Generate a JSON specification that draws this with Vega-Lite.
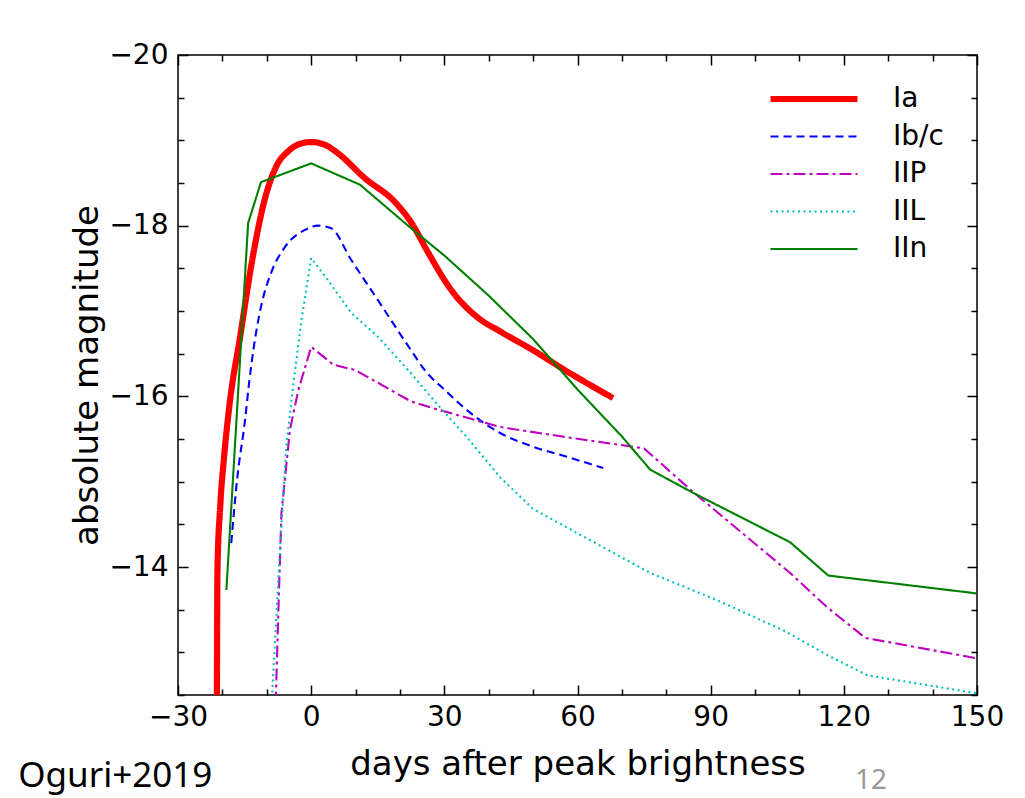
{
  "$schema": "https://vega.github.io/schema/vega-lite/v6.json",
  "width": 799,
  "height": 640,
  "autosize": {"type": "none"},
  "padding": {"left": 178, "top": 55, "right": 48, "bottom": 103},
  "background": "white",
  "config": {
    "view": {"stroke": "black", "strokeWidth": 1.5},
    "font": "DejaVu Sans",
    "axis": {
      "domain": false,
      "grid": false,
      "tickColor": "black",
      "tickWidth": 1.5,
      "labelFont": "DejaVu Sans",
      "labelFontSize": 28,
      "labelColor": "black",
      "titleFont": "DejaVu Sans",
      "titleFontSize": 34,
      "titleFontWeight": "normal",
      "titleColor": "black",
      "labelFlush": false,
      "labelOverlap": false
    }
  },
  "datasets": {
    "curves": [
      {"type": "Ia", "day": -21.25, "mag": -12.3},
      {"type": "Ia", "day": -21.1, "mag": -14.0},
      {"type": "Ia", "day": -20.5, "mag": -14.7},
      {"type": "Ia", "day": -19.6, "mag": -15.3},
      {"type": "Ia", "day": -18.4, "mag": -15.9},
      {"type": "Ia", "day": -16.0, "mag": -16.7},
      {"type": "Ia", "day": -13.1, "mag": -17.65},
      {"type": "Ia", "day": -10.5, "mag": -18.3},
      {"type": "Ia", "day": -8.0, "mag": -18.68},
      {"type": "Ia", "day": -5, "mag": -18.88},
      {"type": "Ia", "day": -2.5, "mag": -18.96},
      {"type": "Ia", "day": 0, "mag": -18.98},
      {"type": "Ia", "day": 3, "mag": -18.95},
      {"type": "Ia", "day": 6, "mag": -18.85},
      {"type": "Ia", "day": 12, "mag": -18.56},
      {"type": "Ia", "day": 19, "mag": -18.27},
      {"type": "Ia", "day": 22.5, "mag": -18.04},
      {"type": "Ia", "day": 26.4, "mag": -17.68},
      {"type": "Ia", "day": 31.5, "mag": -17.25},
      {"type": "Ia", "day": 37.6, "mag": -16.92},
      {"type": "Ia", "day": 42.6, "mag": -16.76},
      {"type": "Ia", "day": 50, "mag": -16.54},
      {"type": "Ia", "day": 57.7, "mag": -16.29},
      {"type": "Ia", "day": 68, "mag": -15.98},

      {"type": "Ib/c", "day": -18, "mag": -14.28},
      {"type": "Ib/c", "day": -16.7, "mag": -15.02},
      {"type": "Ib/c", "day": -14.9, "mag": -15.72},
      {"type": "Ib/c", "day": -14.0, "mag": -16.15},
      {"type": "Ib/c", "day": -13.0, "mag": -16.55},
      {"type": "Ib/c", "day": -11.3, "mag": -17.05},
      {"type": "Ib/c", "day": -9, "mag": -17.45},
      {"type": "Ib/c", "day": -5.9, "mag": -17.75},
      {"type": "Ib/c", "day": -1.4, "mag": -17.95},
      {"type": "Ib/c", "day": 1.6, "mag": -18.0},
      {"type": "Ib/c", "day": 4.5, "mag": -17.97},
      {"type": "Ib/c", "day": 9, "mag": -17.6},
      {"type": "Ib/c", "day": 15, "mag": -17.13},
      {"type": "Ib/c", "day": 22.5, "mag": -16.54},
      {"type": "Ib/c", "day": 25.7, "mag": -16.3},
      {"type": "Ib/c", "day": 30.2, "mag": -16.07},
      {"type": "Ib/c", "day": 36, "mag": -15.8},
      {"type": "Ib/c", "day": 42.6, "mag": -15.57},
      {"type": "Ib/c", "day": 50, "mag": -15.41},
      {"type": "Ib/c", "day": 57.7, "mag": -15.29},
      {"type": "Ib/c", "day": 65.8, "mag": -15.16},

      {"type": "IIP", "day": -8.0, "mag": -12.4},
      {"type": "IIP", "day": -7.4, "mag": -13.46},
      {"type": "IIP", "day": -6.7, "mag": -14.63},
      {"type": "IIP", "day": -4.8, "mag": -15.6},
      {"type": "IIP", "day": -4.0, "mag": -15.8},
      {"type": "IIP", "day": -2.9, "mag": -16.07},
      {"type": "IIP", "day": 0, "mag": -16.58},
      {"type": "IIP", "day": 5.0, "mag": -16.37},
      {"type": "IIP", "day": 9.8, "mag": -16.31},
      {"type": "IIP", "day": 15, "mag": -16.16},
      {"type": "IIP", "day": 22.5, "mag": -15.94},
      {"type": "IIP", "day": 27.5, "mag": -15.86},
      {"type": "IIP", "day": 42.6, "mag": -15.64},
      {"type": "IIP", "day": 57.7, "mag": -15.52},
      {"type": "IIP", "day": 75, "mag": -15.39},
      {"type": "IIP", "day": 86, "mag": -14.88},
      {"type": "IIP", "day": 107.9, "mag": -13.93},
      {"type": "IIP", "day": 116.2, "mag": -13.53},
      {"type": "IIP", "day": 124.8, "mag": -13.17},
      {"type": "IIP", "day": 150, "mag": -12.93},

      {"type": "IIL", "day": -8.9, "mag": -12.4},
      {"type": "IIL", "day": -7, "mag": -14.23},
      {"type": "IIL", "day": -5.6, "mag": -15.41},
      {"type": "IIL", "day": -4, "mag": -16.15},
      {"type": "IIL", "day": -2.2, "mag": -16.89},
      {"type": "IIL", "day": 0, "mag": -17.62},
      {"type": "IIL", "day": 3.8, "mag": -17.36},
      {"type": "IIL", "day": 9, "mag": -16.98},
      {"type": "IIL", "day": 15, "mag": -16.7},
      {"type": "IIL", "day": 22.5, "mag": -16.27},
      {"type": "IIL", "day": 27.5, "mag": -15.96},
      {"type": "IIL", "day": 35.1, "mag": -15.52},
      {"type": "IIL", "day": 42.6, "mag": -15.05},
      {"type": "IIL", "day": 50, "mag": -14.68},
      {"type": "IIL", "day": 76.4, "mag": -13.93},
      {"type": "IIL", "day": 91.5, "mag": -13.61},
      {"type": "IIL", "day": 106.3, "mag": -13.26},
      {"type": "IIL", "day": 116.2, "mag": -12.97},
      {"type": "IIL", "day": 125.3, "mag": -12.73},
      {"type": "IIL", "day": 150, "mag": -12.52},

      {"type": "IIn", "day": -19.1, "mag": -13.73},
      {"type": "IIn", "day": -14.2, "mag": -18.03},
      {"type": "IIn", "day": -11.3, "mag": -18.51},
      {"type": "IIn", "day": 0, "mag": -18.73},
      {"type": "IIn", "day": 11, "mag": -18.48},
      {"type": "IIn", "day": 22.5, "mag": -17.97},
      {"type": "IIn", "day": 30, "mag": -17.65},
      {"type": "IIn", "day": 40, "mag": -17.18},
      {"type": "IIn", "day": 50, "mag": -16.67},
      {"type": "IIn", "day": 60, "mag": -16.08},
      {"type": "IIn", "day": 70, "mag": -15.53},
      {"type": "IIn", "day": 76.4, "mag": -15.14},
      {"type": "IIn", "day": 86, "mag": -14.87},
      {"type": "IIn", "day": 107.9, "mag": -14.29},
      {"type": "IIn", "day": 116.5, "mag": -13.9},
      {"type": "IIn", "day": 150, "mag": -13.69}
    ]
  },
  "data": {"name": "curves"},
  "layer": [
    {
      "transform": [{"filter": "datum.type === 'Ia' || datum.type === 'Ib/c'"}],
      "mark": {"type": "line", "interpolate": "monotone", "clip": true},
      "encoding": {
        "x": {
          "field": "day", "type": "quantitative",
          "scale": {"domain": [-30, 150], "nice": false, "zero": false},
          "axis": {
            "orient": "bottom",
            "values": [-30, -20, -10, 0, 10, 20, 30, 40, 50, 60, 70, 80, 90, 100, 110, 120, 130, 140, 150],
            "format": ".0f",
            "labelExpr": "datum.value % 30 === 0 ? datum.label : ''",
            "tickSize": {"condition": {"test": "datum.value % 30 === 0", "value": -10}, "value": -6},
            "labelPadding": 18,
            "title": "days after peak brightness",
            "titlePadding": 12
          }
        },
        "y": {
          "field": "mag", "type": "quantitative",
          "scale": {"domain": [-20, -12.5], "reverse": true, "nice": false, "zero": false},
          "axis": {
            "orient": "left",
            "values": [-20, -19.5, -19, -18.5, -18, -17.5, -17, -16.5, -16, -15.5, -15, -14.5, -14, -13.5, -13, -12.5],
            "format": ".0f",
            "labelExpr": "datum.value % 2 === 0 ? datum.label : ''",
            "tickSize": {"condition": {"test": "datum.value % 2 === 0", "value": -10}, "value": -6},
            "labelPadding": 20,
            "title": "absolute magnitude",
            "titlePadding": 4
          }
        },
        "color": {
          "field": "type", "type": "nominal",
          "scale": {"domain": ["Ia", "Ib/c", "IIP", "IIL", "IIn"], "range": ["#ff0000", "#0000ff", "#bf00bf", "#00bfbf", "#008000"]},
          "legend": {
            "title": null, "orient": "none", "legendX": 622, "legendY": 30,
            "symbolType": "M-4.35,0H4.35", "symbolSize": 400,
            "labelFont": "DejaVu Sans", "labelFontSize": 28, "labelColor": "black",
            "labelOffset": 65, "rowPadding": 9.5, "padding": 0
          }
        },
        "strokeDash": {
          "field": "type", "type": "nominal",
          "scale": {"domain": ["Ia", "Ib/c", "IIP", "IIL", "IIn"], "range": [[1, 0], [8, 5], [12, 4, 3, 4], [2, 3.5], [1, 0]]},
          "legend": {
            "title": null, "orient": "none", "legendX": 622, "legendY": 30,
            "symbolType": "M-4.35,0H4.35", "symbolSize": 400,
            "labelFont": "DejaVu Sans", "labelFontSize": 28, "labelColor": "black",
            "labelOffset": 65, "rowPadding": 9.5, "padding": 0
          }
        },
        "strokeWidth": {
          "field": "type", "type": "nominal",
          "scale": {"type": "ordinal", "domain": ["Ia", "Ib/c", "IIP", "IIL", "IIn"], "range": [6.2, 2.1, 2.1, 2.1, 2.1]},
          "legend": {
            "title": null, "orient": "none", "legendX": 622, "legendY": 30,
            "symbolType": "M-4.35,0H4.35", "symbolSize": 400,
            "labelFont": "DejaVu Sans", "labelFontSize": 28, "labelColor": "black",
            "labelOffset": 65, "rowPadding": 9.5, "padding": 0
          }
        }
      }
    },
    {
      "transform": [{"filter": "datum.type !== 'Ia' && datum.type !== 'Ib/c'"}],
      "mark": {"type": "line", "interpolate": "linear", "clip": true},
      "encoding": {
        "x": {"field": "day", "type": "quantitative", "scale": {"domain": [-30, 150], "nice": false, "zero": false}, "axis": null},
        "y": {"field": "mag", "type": "quantitative", "scale": {"domain": [-20, -12.5], "reverse": true, "nice": false, "zero": false}, "axis": null},
        "color": {
          "field": "type", "type": "nominal",
          "scale": {"domain": ["Ia", "Ib/c", "IIP", "IIL", "IIn"], "range": ["#ff0000", "#0000ff", "#bf00bf", "#00bfbf", "#008000"]},
          "legend": {
            "title": null, "orient": "none", "legendX": 622, "legendY": 30,
            "symbolType": "M-4.35,0H4.35", "symbolSize": 400,
            "labelFont": "DejaVu Sans", "labelFontSize": 28, "labelColor": "black",
            "labelOffset": 65, "rowPadding": 9.5, "padding": 0
          }
        },
        "strokeDash": {
          "field": "type", "type": "nominal",
          "scale": {"domain": ["Ia", "Ib/c", "IIP", "IIL", "IIn"], "range": [[1, 0], [8, 5], [12, 4, 3, 4], [2, 3.5], [1, 0]]},
          "legend": {
            "title": null, "orient": "none", "legendX": 622, "legendY": 30,
            "symbolType": "M-4.35,0H4.35", "symbolSize": 400,
            "labelFont": "DejaVu Sans", "labelFontSize": 28, "labelColor": "black",
            "labelOffset": 65, "rowPadding": 9.5, "padding": 0
          }
        },
        "strokeWidth": {
          "field": "type", "type": "nominal",
          "scale": {"type": "ordinal", "domain": ["Ia", "Ib/c", "IIP", "IIL", "IIn"], "range": [6.2, 2.1, 2.1, 2.1, 2.1]},
          "legend": {
            "title": null, "orient": "none", "legendX": 622, "legendY": 30,
            "symbolType": "M-4.35,0H4.35", "symbolSize": 400,
            "labelFont": "DejaVu Sans", "labelFontSize": 28, "labelColor": "black",
            "labelOffset": 65, "rowPadding": 9.5, "padding": 0
          }
        }
      }
    },
    {
      "mark": {"type": "point", "opacity": 0},
      "encoding": {
        "x": {
          "field": "day", "type": "quantitative",
          "scale": {"domain": [-30, 150], "nice": false, "zero": false},
          "axis": {
            "orient": "top", "labels": false, "title": null,
            "values": [-30, -20, -10, 0, 10, 20, 30, 40, 50, 60, 70, 80, 90, 100, 110, 120, 130, 140, 150],
            "tickSize": {"condition": {"test": "datum.value % 30 === 0", "value": -10}, "value": -6}
          }
        },
        "y": {
          "field": "mag", "type": "quantitative",
          "scale": {"domain": [-20, -12.5], "reverse": true, "nice": false, "zero": false},
          "axis": {
            "orient": "right", "labels": false, "title": null,
            "values": [-20, -19.5, -19, -18.5, -18, -17.5, -17, -16.5, -16, -15.5, -15, -14.5, -14, -13.5, -13, -12.5],
            "tickSize": {"condition": {"test": "datum.value % 2 === 0", "value": -10}, "value": -6}
          }
        }
      }
    },
    {
      "data": {"values": [{"note": "Oguri+2019"}]},
      "mark": {"type": "text", "align": "left", "baseline": "alphabetic", "font": "Noto Sans", "fontSize": 35, "color": "black"},
      "encoding": {
        "text": {"field": "note"},
        "x": {"datum": -66.0, "type": "quantitative", "scale": {"domain": [-30, 150], "nice": false, "zero": false}, "axis": null},
        "y": {"datum": -11.42, "type": "quantitative", "scale": {"domain": [-20, -12.5], "reverse": true, "nice": false, "zero": false}, "axis": null}
      }
    },
    {
      "data": {"values": [{"note": "12"}]},
      "mark": {"type": "text", "align": "center", "baseline": "alphabetic", "font": "Noto Sans", "fontSize": 28, "color": "#999999"},
      "encoding": {
        "text": {"field": "note"},
        "x": {"datum": 126.1, "type": "quantitative", "scale": {"domain": [-30, 150], "nice": false, "zero": false}, "axis": null},
        "y": {"datum": -11.4, "type": "quantitative", "scale": {"domain": [-20, -12.5], "reverse": true, "nice": false, "zero": false}, "axis": null}
      }
    }
  ],
  "resolve": {"axis": {"x": "independent", "y": "independent"}}
}
